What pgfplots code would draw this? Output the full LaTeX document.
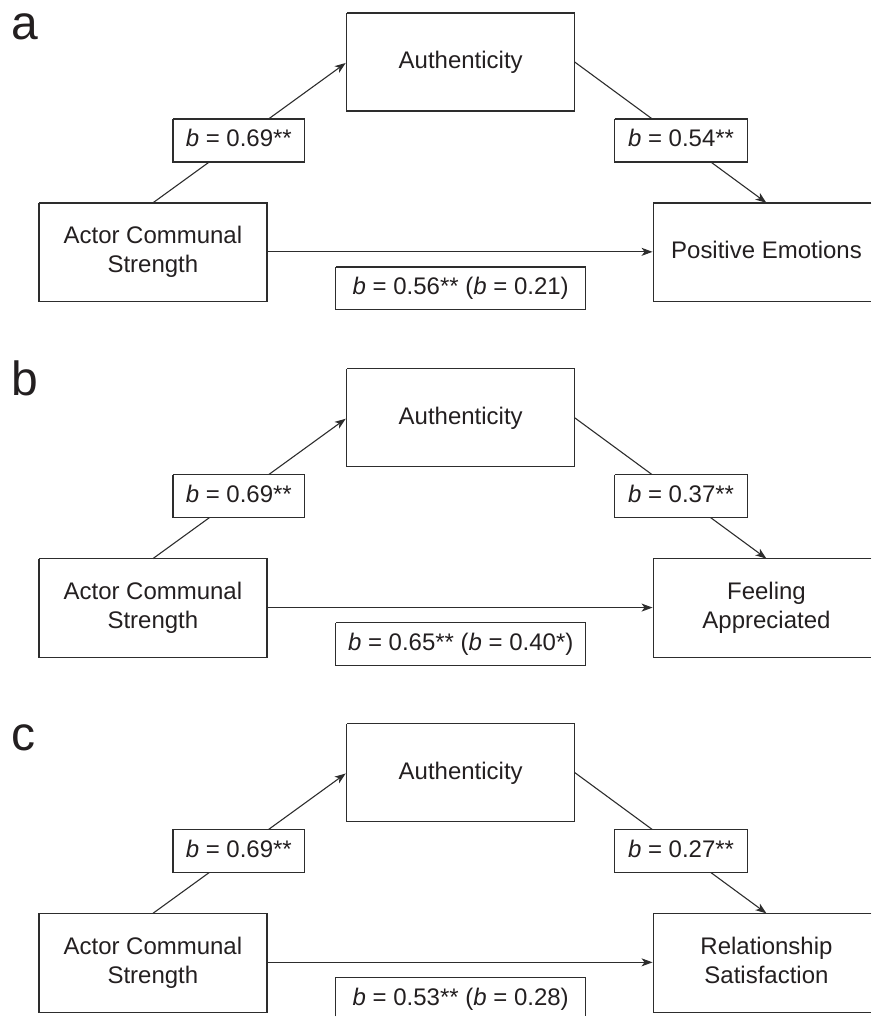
\documentclass[border=0pt]{standalone}
\usepackage{pgfplots}
\pgfplotsset{compat=1.18}
\usetikzlibrary{arrows.meta}
\usepackage{fontspec}
\setmainfont{Liberation Sans}
\definecolor{ink}{RGB}{35,31,32}
\definecolor{linec}{RGB}{45,45,45}
\tikzset{
  mybox/.style={draw=linec, line width=1.4pt, line join=miter},
  mylbl/.style={draw=linec, fill=white, line width=1.4pt, line join=miter},
  myarr/.style={draw=linec, line width=1.1pt, -{Stealth[length=11pt,width=8pt,inset=3pt]}},
  mytxt/.style={anchor=base, font=\fontsize{24}{29}\selectfont, text=ink, inner sep=0pt},
  mypan/.style={anchor=base west, font=\fontsize{48}{52}\selectfont, text=ink, inner sep=0pt},
}
\begin{document}
\begin{tikzpicture}
\begin{axis}[
  scale only axis, width=872pt, height=1017pt,
  xmin=0, xmax=872, ymin=0, ymax=1017, y dir=reverse,
  hide axis, clip=false,
  every axis plot/.append style={mark=none},
]
% invisible frame so that the page covers the whole drawing area
\addplot[draw=none, forget plot] coordinates {(0,0) (872,1017)};
% ---------------- panel a ----------------
\addplot[myarr] coordinates {(153,203) (346,63)};
\addplot[myarr] coordinates {(575,62) (767,203)};
\addplot[myarr] coordinates {(267,252) (653,252)};
\addplot[mybox] coordinates {(347,13) (575,13) (575,111) (347,111) (347,13)};
\addplot[mybox] coordinates {(39,203) (267,203) (267,302) (39,302) (39,203)};
\addplot[mybox] coordinates {(872,203) (654,203) (654,302) (872,302)};
\addplot[mylbl] coordinates {(173,119) (305,119) (305,162) (173,162) (173,119)};
\addplot[mylbl] coordinates {(615,119) (748,119) (748,162) (615,162) (615,119)};
\addplot[mylbl] coordinates {(336,267) (586,267) (586,310) (336,310) (336,267)};
\node[mypan] at (axis cs:11,40) {a};
\node[mytxt] at (axis cs:461,69) {Authenticity};
\node[mytxt] at (axis cs:153,244) {Actor Communal};
\node[mytxt] at (axis cs:153,273) {Strength};
\node[mytxt] at (axis cs:767,259) {Positive Emotions};
\node[mytxt] at (axis cs:239,147) {\textit{b} = 0.69**};
\node[mytxt] at (axis cs:681.5,147) {\textit{b} = 0.54**};
\node[mytxt] at (axis cs:461,295) {\textit{b} = 0.56** (\textit{b} = 0.21)};
% ---------------- panel b ----------------
\addplot[myarr] coordinates {(153,559) (346,419)};
\addplot[myarr] coordinates {(575,418) (767,559)};
\addplot[myarr] coordinates {(267,608) (653,608)};
\addplot[mybox] coordinates {(347,369) (575,369) (575,467) (347,467) (347,369)};
\addplot[mybox] coordinates {(39,559) (267,559) (267,658) (39,658) (39,559)};
\addplot[mybox] coordinates {(872,559) (654,559) (654,658) (872,658)};
\addplot[mylbl] coordinates {(173,475) (305,475) (305,518) (173,518) (173,475)};
\addplot[mylbl] coordinates {(615,475) (748,475) (748,518) (615,518) (615,475)};
\addplot[mylbl] coordinates {(336,623) (586,623) (586,666) (336,666) (336,623)};
\node[mypan] at (axis cs:11,396) {b};
\node[mytxt] at (axis cs:461,425) {Authenticity};
\node[mytxt] at (axis cs:153,600) {Actor Communal};
\node[mytxt] at (axis cs:153,629) {Strength};
\node[mytxt] at (axis cs:767,600) {Feeling};
\node[mytxt] at (axis cs:767,629) {Appreciated};
\node[mytxt] at (axis cs:239,503) {\textit{b} = 0.69**};
\node[mytxt] at (axis cs:681.5,503) {\textit{b} = 0.37**};
\node[mytxt] at (axis cs:461,651) {\textit{b} = 0.65** (\textit{b} = 0.40*)};
% ---------------- panel c ----------------
\addplot[myarr] coordinates {(153,914) (346,774)};
\addplot[myarr] coordinates {(575,773) (767,914)};
\addplot[myarr] coordinates {(267,963) (653,963)};
\addplot[mybox] coordinates {(347,724) (575,724) (575,822) (347,822) (347,724)};
\addplot[mybox] coordinates {(39,914) (267,914) (267,1013) (39,1013) (39,914)};
\addplot[mybox] coordinates {(872,914) (654,914) (654,1013) (872,1013)};
\addplot[mylbl] coordinates {(173,830) (305,830) (305,873) (173,873) (173,830)};
\addplot[mylbl] coordinates {(615,830) (748,830) (748,873) (615,873) (615,830)};
\addplot[mylbl] coordinates {(336,1017) (336,978) (586,978) (586,1017)};
\node[mypan] at (axis cs:11,751) {c};
\node[mytxt] at (axis cs:461,780) {Authenticity};
\node[mytxt] at (axis cs:153,955) {Actor Communal};
\node[mytxt] at (axis cs:153,984) {Strength};
\node[mytxt] at (axis cs:767,955) {Relationship};
\node[mytxt] at (axis cs:767,984) {Satisfaction};
\node[mytxt] at (axis cs:239,858) {\textit{b} = 0.69**};
\node[mytxt] at (axis cs:681.5,858) {\textit{b} = 0.27**};
\node[mytxt] at (axis cs:461,1006) {\textit{b} = 0.53** (\textit{b} = 0.28)};
\end{axis}
\end{tikzpicture}
\end{document}
